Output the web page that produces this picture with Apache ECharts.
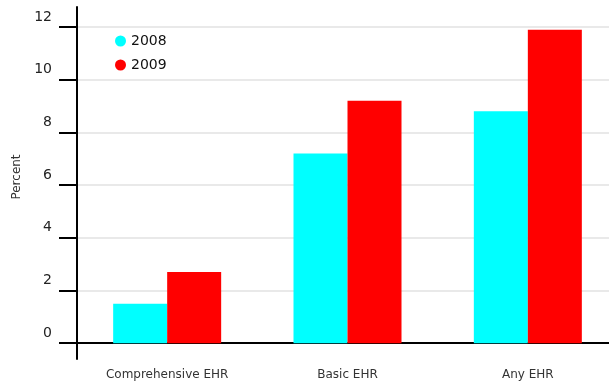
<!DOCTYPE html>
<html>
<head>
<meta charset="utf-8">
<script src="https://cdn.jsdelivr.net/npm/echarts@6/dist/echarts.min.js"></script>
<style>
  html, body { margin: 0; padding: 0; background: #fff; }
  #chart { width: 609px; height: 385px; }
</style>
</head>
<body>
<div id="chart"></div>
<script>
// EHR adoption by hospitals, share in percent
const categories = ['Comprehensive EHR', 'Basic EHR', 'Any EHR'];
const values2008 = [1.5, 7.2, 8.8];
const values2009 = [2.7, 9.2, 11.9];
const yTicks = [0, 2, 4, 6, 8, 10, 12];

const FONT = 'DejaVu Sans';
const chart = echarts.init(document.getElementById('chart'), null, { renderer: 'canvas' });

chart.setOption({
  animation: false,
  backgroundColor: '#ffffff',
  grid: { left: 77, top: 7, width: 541, bottom: 26, containLabel: false, outerBoundsMode: 'none' },
  legend: {
    orient: 'vertical',
    left: 110,
    top: 29,
    icon: 'circle',
    itemWidth: 11,
    itemHeight: 11,
    itemGap: 10,
    textStyle: { fontFamily: FONT, fontSize: 14, color: '#111' },
    data: ['2008', '2009']
  },
  xAxis: {
    type: 'category',
    data: categories,
    axisLine: { onZero: true, lineStyle: { color: '#000', width: 2 } },
    axisTick: { alignWithLabel: true, length: 15, lineStyle: { color: '#000', width: 2 } },
    axisLabel: { margin: 10, fontFamily: FONT, fontSize: 12, color: '#333' },
    splitLine: { show: false }
  },
  yAxis: {
    type: 'value',
    min: -0.6,
    max: 12.76,
    name: 'Percent',
    nameLocation: 'middle',
    nameRotate: 90,
    nameGap: 53,
    nameTextStyle: { fontFamily: FONT, fontSize: 12, color: '#333', padding: [0, 0, 0, 12] },
    axisLine: { show: true, onZero: false, lineStyle: { color: '#000', width: 2 } },
    axisTick: { show: true, customValues: yTicks, length: 18, lineStyle: { color: '#000', width: 2 } },
    axisLabel: {
      customValues: yTicks,
      margin: 25,
      fontFamily: FONT,
      fontSize: 14,
      color: '#222',
      verticalAlign: 'bottom',
      padding: [0, 0, 3, 0]
    },
    splitLine: { show: true, lineStyle: { color: '#e2e2e2', width: 1.5 } }
  },
  series: [
    {
      name: '2008',
      type: 'bar',
      data: values2008,
      barWidth: 54,
      barGap: '0%',
      itemStyle: { color: '#00ffff' }
    },
    {
      name: '2009',
      type: 'bar',
      data: values2009,
      barWidth: 54,
      barGap: '0%',
      itemStyle: { color: '#ff0000' }
    }
  ]
});
</script>
</body>
</html>
